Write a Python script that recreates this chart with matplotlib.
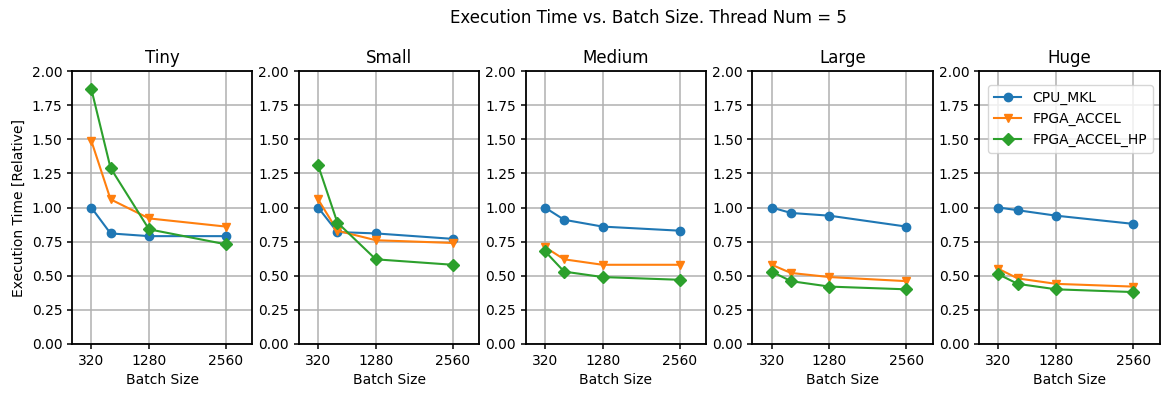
import numpy as np
import matplotlib
matplotlib.use("Agg")
import matplotlib.pyplot as plt

# Data (relative execution time)
batch_sizes = [320, 640, 1280, 2560]
sizes = ["Tiny", "Small", "Medium", "Large", "Huge"]

cpu_mkl = [
    [1.00, 0.81, 0.79, 0.79],
    [1.00, 0.82, 0.81, 0.77],
    [1.00, 0.91, 0.86, 0.83],
    [1.00, 0.96, 0.94, 0.86],
    [1.00, 0.98, 0.94, 0.88],
]
fpga_accel = [
    [1.49, 1.06, 0.92, 0.86],
    [1.06, 0.83, 0.76, 0.74],
    [0.71, 0.62, 0.58, 0.58],
    [0.58, 0.52, 0.49, 0.46],
    [0.55, 0.48, 0.44, 0.42],
]
fpga_accel_hp = [
    [1.87, 1.29, 0.84, 0.73],
    [1.31, 0.89, 0.62, 0.58],
    [0.68, 0.53, 0.49, 0.47],
    [0.53, 0.46, 0.42, 0.40],
    [0.51, 0.44, 0.40, 0.38],
]

plt.rcParams["axes.linewidth"] = 1.3

fig, axes = plt.subplots(1, 5, figsize=(11.62, 3.93), dpi=100)
fig.subplots_adjust(left=0.062, right=0.998, top=0.819, bottom=0.125, wspace=0.257)

for i, ax in enumerate(axes):
    ax.plot(batch_sizes, cpu_mkl[i], marker="o", label="CPU_MKL")
    ax.plot(batch_sizes, fpga_accel[i], marker="v", label="FPGA_ACCEL")
    ax.plot(batch_sizes, fpga_accel_hp[i], marker="D", label="FPGA_ACCEL_HP")
    ax.set_title(sizes[i])
    ax.set_xlim(0, 3000)
    ax.set_ylim(0, 2.0)
    ax.set_xticks([320, 1280, 2560])
    ax.set_yticks(np.arange(0, 2.01, 0.25))
    ax.set_xlabel("Batch Size")
    ax.grid(True, color="#b0b0b0", linewidth=1.1)
    ax.tick_params(width=1.1)

axes[0].set_ylabel("Execution Time [Relative]")
axes[-1].legend(loc="upper right", bbox_to_anchor=(1.0, 0.974))

fig.text(0.558, 0.954, "Execution Time vs. Batch Size. Thread Num = 5",
         ha="center", va="center", fontsize=12)

plt.savefig("out.png")
